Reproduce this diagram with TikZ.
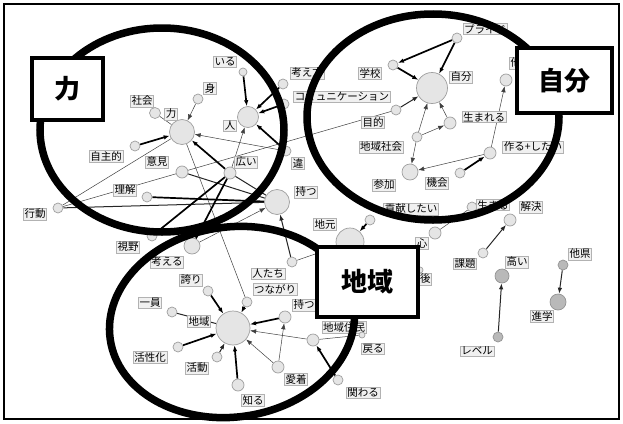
\documentclass[tikz,border=0pt]{standalone}
\usepackage{fontspec}
\newfontfamily\jp{Noto Sans CJK JP}
\usetikzlibrary{arrows.meta}
\pgfdeclarelayer{background}
\pgfsetlayers{background,main}
\tikzset{
  circ/.style={circle, draw=gray!75, fill=gray!20, inner sep=0pt, line width=0.7pt},
  dark/.style={fill=gray!55, draw=gray!85},
  lab/.style={draw=gray!60, fill=gray!12, inner sep=1.1pt, line width=0.6pt, font=\jp\fontsize{10.5}{11}\selectfont},
  big/.style={draw=black, fill=white, line width=3.5pt, inner sep=0pt, font=\jp\bfseries\fontsize{26}{28}\selectfont},
  ring/.style={draw=black, line width=7.5pt},
  thn/.style={line width=0.5pt, draw=black!75},
  med/.style={line width=1pt, draw=black!85},
  thk/.style={line width=1.7pt, draw=black},
  arr/.style={-{Latex[length=6pt,width=4.5pt]}}
}
\newcommand\kwnode[8][]{\node[circ,minimum size=#5pt,#1] (c#2) at (#3,#4) {}; \node[lab] (l#2) at (#6,#7) {#8};}
\begin{document}
\begin{tikzpicture}[x=1pt,y=-1pt]
\useasboundingbox (0,0) rectangle (623,423);
% --- chikara cluster
\kwnode{Iru}{243}{72}{8}{225}{62}{いる}
\kwnode{Mi}{198}{99}{10}{210}{88}{身}
\kwnode{Shakai}{155}{113}{11}{142}{101}{社会}
\kwnode{Chikara}{182}{132}{25}{171}{114}{力}
\kwnode{Hito}{248}{117}{21}{230}{126}{人}
\kwnode{Jishu}{135}{146}{10}{106}{156}{自主的}
\kwnode{Iken}{182}{172}{12}{157}{162}{意見}
\kwnode{Hiroi}{230}{173}{12}{246}{162}{広い}
\kwnode{Rikai}{147}{197}{10}{125}{190}{理解}
\kwnode{Motsu}{277}{202}{25}{306}{192}{持つ}
\kwnode{Kodo}{58}{208}{10}{35}{214}{行動}
\kwnode{Chigau}{286}{151}{10}{298}{163}{違}
\kwnode{Kangae}{283}{84}{10}{307}{73}{考え方}
\kwnode{Comm}{284}{104}{10}{342}{97}{コミュニケーション}
% --- jibun cluster
\kwnode{Pride}{457}{38}{10}{485}{29}{プライド}
\kwnode{Gakko}{393}{65}{10}{370}{73}{学校}
\kwnode{Jibun}{432}{88}{31}{461}{77}{自分}
\kwnode{Mokuteki}{396}{110}{10}{373}{122}{目的}
\kwnode{Umareru}{450}{123}{12}{484}{117}{生まれる}
\kwnode{ChiikiShakai}{417}{137}{10}{381}{147}{地域社会}
\kwnode{Tsukuru}{490}{153}{12}{533}{147}{作る+したい}
\kwnode{Sanka}{410}{172}{16}{384}{185}{参加}
\kwnode{Kikai}{460}{173}{10}{437}{183}{機会}
\kwnode{Ta}{506}{80}{12}{521}{63}{他者}
% --- middle
\kwnode{Jimoto}{350}{242}{28}{325}{224}{地元}
\kwnode{Kouken}{370}{220}{10}{411}{209}{貢献したい}
\kwnode{Kokoro}{435}{233}{12}{422}{243}{心}
\kwnode{Ikiru}{472}{207}{10}{493}{205}{生きる}
\kwnode{Kaiketsu}{510}{220}{12}{531}{207}{解決}
\kwnode{Kadai}{483}{253}{10}{465}{264}{課題}
\kwnode[dark]{Takai}{502}{276}{14}{517}{262}{高い}
\kwnode[dark]{Level}{498}{337}{10}{477}{351}{レベル}
\kwnode[dark]{Taken}{563}{265}{10}{580}{254}{他県}
\kwnode[dark]{Shingaku}{558}{302}{16}{542}{316}{進学}
\kwnode{Kongo}{420}{270}{6}{420}{279}{今後}
% --- chiiki cluster
\kwnode{Shiya}{152}{236}{10}{128}{247}{視野}
\kwnode{Kangaeru}{192}{246}{16}{167}{262}{考える}
\kwnode{Hokori}{208}{291}{10}{191}{280}{誇り}
\kwnode{Hitotachi}{292}{262}{10}{268}{274}{人たち}
\kwnode{Tsunagari}{247}{302}{10}{275}{289}{つながり}
\kwnode{Ichiin}{172}{312}{10}{150}{303}{一員}
\kwnode{Chiiki}{233}{328}{34}{199}{321}{地域}
\kwnode{MotsuB}{285}{317}{12}{304}{305}{持つ}
\kwnode{Jumin}{313}{340}{12}{344}{327}{地域住民}
\kwnode{Modoru}{362}{335}{6}{373}{349}{戻る}
\kwnode{Kasseika}{178}{347}{10}{150}{357}{活性化}
\kwnode{Katsudo}{217}{357}{10}{197}{368}{活動}
\kwnode{Aichaku}{278}{367}{12}{296}{379}{愛着}
\kwnode{Shiru}{238}{385}{12}{253}{400}{知る}
\kwnode{Kakawaru}{338}{380}{10}{363}{393}{関わる}
\begin{pgfonlayer}{background}
\fill[white] (0,0) rectangle (623,423);
% chikara
\draw[thk,arr] (cIru) -- (cHito);
\draw[thk,arr] (cKangae) -- (cHito);
\draw[thk,arr] (cComm) -- (cHito);
\draw[thk,arr] (cChigau) -- (cHito);
\draw[thn,arr] (cHiroi) -- (cHito);
\draw[thn,arr] (cMi) -- (cChikara);
\draw[thn] (cShakai) -- (cChikara);
\draw[thk,arr] (cJishu) -- (cChikara);
\draw[thk,arr] (cHiroi) -- (cChikara);
\draw[thn] (cKodo) -- (cChikara);
\draw[thn,arr] (cChigau) -- (cChikara);
\draw[thn] (cTsunagari) -- (cChikara);
\draw[med] (cIken) -- (cMotsu);
\draw[thk] (cRikai) -- (cMotsu);
\draw[med] (cKodo) -- (cMotsu);
\draw[med] (cHiroi) -- (cMotsu);
\draw[thk] (cKangaeru) -- (cHiroi);
\draw[thk] (cShiya) -- (cHiroi);
\draw[thn,arr] (cKangaeru) -- (cMotsu);
\draw[med,arr] (cHitotachi) -- (cMotsu);
\draw[thn] (cKodo) -- (cMokuteki);
% jibun
\draw[thk,arr] (cPride) -- (cGakko);
\draw[thk,arr] (cPride) -- (cJibun);
\draw[thk,arr] (cGakko) -- (cJibun);
\draw[med,arr] (cMokuteki) -- (cJibun);
\draw[thn,arr] (cChiikiShakai) -- (cJibun);
\draw[thn,arr] (cChiikiShakai) -- (cUmareru);
\draw[thn,arr] (cUmareru) -- (cJibun);
\draw[thn,arr] (cChiikiShakai) -- (cSanka);
\draw[thk,arr] (cKikai) -- (cTsukuru);
\draw[thn,arr] (cTsukuru) -- (cSanka);
\draw[thn,arr] (cTsukuru) -- (cTa);
% middle
\draw[thk,arr] (cKouken) -- (cJimoto);
\draw[thn] (cHitotachi) -- (cJimoto);
\draw[thn] (cKokoro) -- (cIkiru);
\draw[med,arr] (cKadai) -- (cKaiketsu);
\draw[med,arr] (cLevel) -- (cTakai);
\draw[med,arr] (cTaken) -- (cShingaku);
% chiiki
\draw[thk,arr] (cHokori) -- (cChiiki);
\draw[med] (cIchiin) -- (cChiiki);
\draw[thk,arr] (cTsunagari) -- (cChiiki);
\draw[thk,arr] (cMotsuB) -- (cChiiki);
\draw[thn,arr] (cJumin) -- (cChiiki);
\draw[thk,arr] (cKasseika) -- (cChiiki);
\draw[med,arr] (cKatsudo) -- (cChiiki);
\draw[thk,arr] (cShiru) -- (cChiiki);
\draw[thn,arr] (cAichaku) -- (cChiiki);
\draw[thn,arr] (cAichaku) -- (cMotsuB);
\draw[thk,arr] (cKakawaru) -- (cJumin);
\draw[thn] (cJumin) -- (cModoru);
\end{pgfonlayer}
\draw[line width=1.5pt] (4,4) rectangle (619,419);
% rings
\draw[ring] (162,130) ellipse [x radius=122pt, y radius=102pt];
\draw[ring] (433,117) ellipse [x radius=126pt, y radius=103pt];
\draw[ring] (232,322) [rotate around={8:(232,322)}] ellipse [x radius=123pt, y radius=95pt];
% big labels
\node[big, minimum width=71pt, minimum height=62pt] (bChikara) at (67.5,89) {力};
\node[big, minimum width=95pt, minimum height=65pt] (bJibun) at (564.5,80.5) {自分};
\node[big, minimum width=101pt, minimum height=70pt] (bChiiki) at (367.5,282) {地域};
\end{tikzpicture}
\end{document}
